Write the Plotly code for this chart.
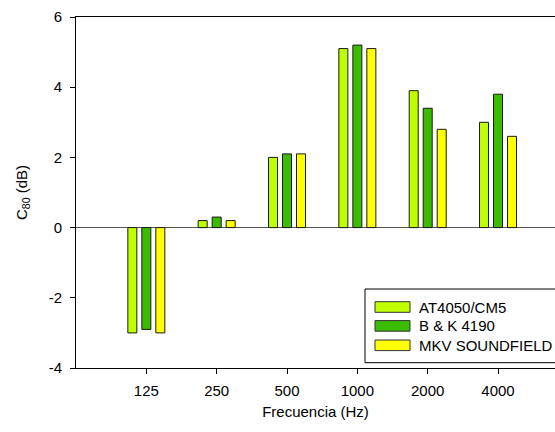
import plotly.graph_objects as go

# ---- data ----
categories = ["125", "250", "500", "1000", "2000", "4000"]
series_names = ["AT4050/CM5", "B & K 4190", "MKV SOUNDFIELD"]
at4050 = [-3.0, 0.2, 2.0, 5.1, 3.9, 3.0]
bk4190 = [-2.9, 0.3, 2.1, 5.2, 3.4, 3.8]
mkv = [-3.0, 0.2, 2.1, 5.1, 2.8, 2.6]
y_ticks = [-4, -2, 0, 2, 4, 6]

# ---- style ----
colors = ["#BFFF00", "#3CBC00", "#FFFF00"]
FONT = "Liberation Sans, Arial, sans-serif"
W, H = 555, 432
ML, MR, MT, MB = 76, 0, 17, 64
PW, PH = W - ML - MR, H - MT - MB


def px_x(px):
    return (px - ML) / PW


def px_y(py):
    return (H - MB - py) / PH


fig = go.Figure()
for name, vals, col in zip(series_names, [at4050, bk4190, mkv], colors):
    fig.add_trace(go.Bar(
        x=categories, y=vals, name=name,
        marker=dict(color=col, line=dict(color="#1a1a1a", width=1)),
        showlegend=False,
    ))

# custom legend (box, swatches, labels)
shapes = [dict(type="rect", xref="paper", yref="paper",
               x0=px_x(365), x1=px_x(565), y0=px_y(362.7), y1=px_y(289),
               line=dict(color="black", width=1), fillcolor="white", layer="above")]
annotations = []
row_centers = [307.0, 325.9, 345.3]
for name, col, cy in zip(series_names, colors, row_centers):
    shapes.append(dict(type="rect", xref="paper", yref="paper",
                       x0=px_x(375), x1=px_x(410), y0=px_y(cy + 5.3), y1=px_y(cy - 5.3),
                       line=dict(color="#333333", width=1), fillcolor=col, layer="above"))
    annotations.append(dict(xref="paper", yref="paper", x=px_x(417), y=px_y(cy),
                            xanchor="left", yanchor="middle", text=name, showarrow=False,
                            font=dict(family=FONT, size=15, color="black")))

fig.update_layout(
    width=W, height=H,
    margin=dict(l=ML, r=MR, t=MT, b=MB, autoexpand=False),
    paper_bgcolor="white", plot_bgcolor="white",
    barmode="group", bargap=0.403, bargroupgap=0.357,
    font=dict(family=FONT, size=15, color="black"),
    shapes=shapes, annotations=annotations,
    hovermode=False,
)
fig.update_xaxes(
    type="category", range=[-1, 5.81],
    showline=True, linecolor="black", linewidth=1, mirror=True,
    ticks="outside", ticklen=5, tickcolor="black", tickwidth=1,
    showgrid=False, zeroline=False,
    tickfont=dict(family=FONT, size=15),
    ticklabelstandoff=4,
    title=dict(text="Frecuencia (Hz)", font=dict(family=FONT, size=15), standoff=8),
    automargin=False,
)
fig.update_yaxes(
    range=[-4, 6], tickvals=y_ticks, ticktext=[str(v) for v in y_ticks],
    showline=True, linecolor="black", linewidth=1, mirror=False,
    ticks="outside", ticklen=5, tickcolor="black", tickwidth=1,
    showgrid=False, zeroline=True, zerolinecolor="#555555", zerolinewidth=1,
    tickfont=dict(family=FONT, size=15),
    ticklabelstandoff=5,
    title=dict(text="C<sub>80</sub> (dB)", font=dict(family=FONT, size=15), standoff=17),
    automargin=False,
)

fig.write_html(
    "out.html",
    config={"displayModeBar": False, "staticPlot": True},
    post_script="document.body.style.margin='0';document.body.style.overflow='hidden';",
)
